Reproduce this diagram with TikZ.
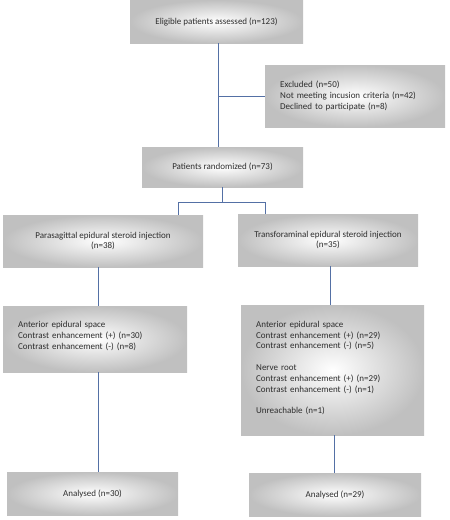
\documentclass[tikz,border=0pt]{standalone}
\usepackage{fontspec}
\setmainfont{Carlito}
\usepackage{xcolor}
\usetikzlibrary{positioning, calc}
\definecolor{linkblue}{RGB}{84, 112, 165}
\definecolor{boxedge}{RGB}{192, 192, 192}
\definecolor{inktext}{RGB}{45, 45, 45}

\tikzset{
    flowtext/.style={text=inktext, font=\fontsize{9}{10.8}\selectfont, inner sep=0pt},
    flowbox/.style={flowtext, inner color=white, outer color=boxedge},
    listtext/.style={flowtext, align=left, text width=#1},
    link/.style={draw=linkblue, line width=0.9pt}
}

\begin{document}
\begin{tikzpicture}[x=1pt, y=-1pt]
        \useasboundingbox (0,0) rectangle (450,520);

        % enrolment
        \node[flowbox, minimum width=173pt, minimum height=43pt] (elig) at (216.5, 21.5)
            {Eligible patients assessed (n=123)};
        \node[flowbox, minimum width=180pt, minimum height=62pt] (excl) at (355, 96) {};
        \node[listtext=160pt, anchor=west] (excltext) at (280, 96)
            {Excluded (n=50)\\Not meeting incusion criteria (n=42)\\Declined to participate (n=8)};
        \node[flowbox, minimum width=161pt, minimum height=40pt] (rand) at (222.5, 167)
            {Patients randomized (n=73)};

        % allocation
        \node[flowbox, minimum width=200pt, minimum height=52pt, align=center] (para) at (103, 241)
            {Parasagittal epidural steroid injection\\(n=38)};
        \node[flowbox, minimum width=180pt, minimum height=52pt, align=center] (trans) at (328, 240)
            {Transforaminal epidural steroid injection\\(n=35)};

        % contrast findings
        \node[flowbox, minimum width=184pt, minimum height=66pt] (antL) at (95, 339) {};
        \node[listtext=165pt, anchor=west] (antLtext) at (18, 336)
            {Anterior epidural space\\Contrast enhancement (+) (n=30)\\Contrast enhancement (-) (n=8)};
        \node[flowbox, minimum width=183pt, minimum height=130pt] (antR) at (332.5, 370) {};
        \node[listtext=165pt, anchor=west] (antRtext) at (256, 368)
            {Anterior epidural space\\Contrast enhancement (+) (n=29)\\Contrast enhancement (-) (n=5)\\[10.8pt]
             Nerve root\\Contrast enhancement (+) (n=29)\\Contrast enhancement (-) (n=1)\\[10.8pt]
             Unreachable (n=1)};

        % analysis
        \node[flowbox, minimum width=171pt, minimum height=43pt] (anaL) at (92.5, 493.5)
            {Analysed (n=30)};
        \node[flowbox, minimum width=172pt, minimum height=43pt] (anaR) at (335, 494.5)
            {Analysed (n=29)};

        % connectors
        \coordinate (trunk) at (218, 0);
        \coordinate (armL) at (178, 202);
        \coordinate (armR) at (265, 202);
        \coordinate (colL) at (98, 0);
        \coordinate (colRa) at (330, 0);
        \coordinate (colRb) at (334, 0);

        \draw[link] (trunk |- elig.south) -- (trunk |- rand.north);
        \draw[link] (trunk |- excl.west) -- (excl.west);
        \draw[link] (rand.south) -- (rand.south |- armL);
        \draw[link] (armL |- para.north) -- (armL) -- (armR) -- (armR |- trans.north);
        \draw[link] (colL |- para.south) -- (colL |- antL.north);
        \draw[link] (colRa |- trans.south) -- (colRa |- antR.north);
        \draw[link] (colL |- antL.south) -- (colL |- anaL.north);
        \draw[link] (colRb |- antR.south) -- (colRb |- anaR.north);

    \end{tikzpicture}
\end{document}
